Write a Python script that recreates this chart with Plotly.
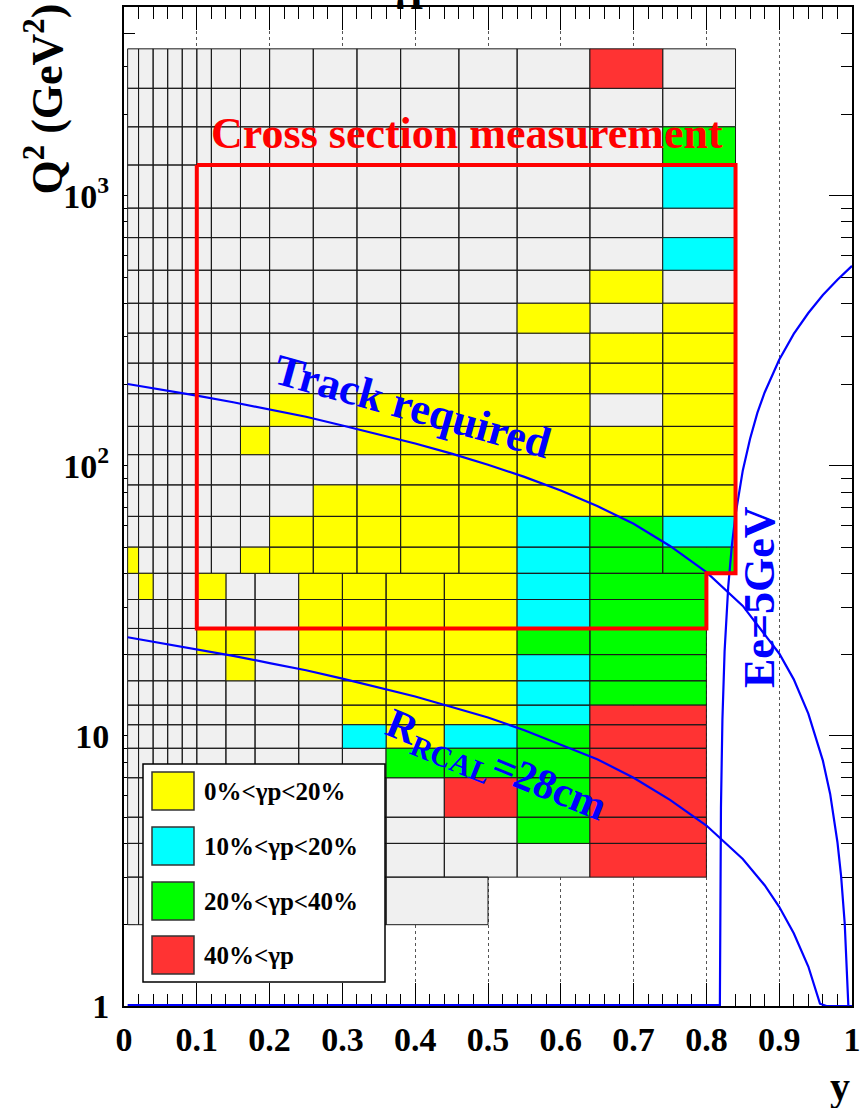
import plotly.graph_objects as go

# ---------------- data ----------------
# Q2 bin edges (GeV^2)
q2_edges_high = [40, 50, 65, 85, 110, 140, 185, 240, 310, 400, 530, 700, 900, 1300, 1800, 2500, 3500]
q2_edges_low = [3, 4, 5, 7, 9, 11, 13, 16, 20, 25, 32, 40]
q2_edges_bottom = [2, 3]

# y bin edges
y_edges_high = [0.005, 0.02, 0.04, 0.06, 0.08, 0.10, 0.12, 0.16, 0.20, 0.26, 0.32, 0.38, 0.46, 0.54, 0.64, 0.74, 0.84]
y_edges_low = [0.005, 0.02, 0.04, 0.06, 0.08, 0.10, 0.14, 0.18, 0.24, 0.30, 0.36, 0.44, 0.54, 0.64, 0.80]
y_edges_bottom = [0.005, 0.02, 0.04, 0.06, 0.08, 0.10, 0.14, 0.18, 0.24, 0.30, 0.36, 0.50]

# photoproduction class per cell: 0 none, 1 yellow, 2 cyan, 3 green, 4 red
# rows from low Q2 to high Q2
cls_high = [
    [1, 0, 0, 0, 0, 0, 0, 1, 1, 1, 1, 1, 1, 2, 3, 3],  # 40-50
    [0, 0, 0, 0, 0, 0, 0, 0, 1, 1, 1, 1, 1, 2, 3, 2],  # 50-65
    [0, 0, 0, 0, 0, 0, 0, 0, 0, 1, 1, 1, 1, 1, 1, 1],  # 65-85
    [0, 0, 0, 0, 0, 0, 0, 0, 0, 0, 0, 1, 1, 1, 1, 1],  # 85-110
    [0, 0, 0, 0, 0, 0, 0, 1, 0, 0, 1, 1, 1, 1, 1, 1],  # 110-140
    [0, 0, 0, 0, 0, 0, 0, 0, 1, 0, 1, 1, 1, 1, 0, 1],  # 140-185
    [0, 0, 0, 0, 0, 0, 0, 0, 0, 0, 0, 0, 1, 1, 1, 1],  # 185-240
    [0, 0, 0, 0, 0, 0, 0, 0, 0, 0, 0, 0, 0, 0, 1, 1],  # 240-310
    [0, 0, 0, 0, 0, 0, 0, 0, 0, 0, 0, 0, 0, 1, 0, 1],  # 310-400
    [0, 0, 0, 0, 0, 0, 0, 0, 0, 0, 0, 0, 0, 0, 1, 0],  # 400-530
    [0, 0, 0, 0, 0, 0, 0, 0, 0, 0, 0, 0, 0, 0, 0, 2],  # 530-700
    [0, 0, 0, 0, 0, 0, 0, 0, 0, 0, 0, 0, 0, 0, 0, 0],  # 700-900
    [0, 0, 0, 0, 0, 0, 0, 0, 0, 0, 0, 0, 0, 0, 0, 2],  # 900-1300
    [0, 0, 0, 0, 0, 0, 0, 0, 0, 0, 0, 0, 0, 0, 0, 3],  # 1300-1800
    [0, 0, 0, 0, 0, 0, 0, 0, 0, 0, 0, 0, 0, 0, 0, 0],  # 1800-2500
    [0, 0, 0, 0, 0, 0, 0, 0, 0, 0, 0, 0, 0, 0, 4, 0],  # 2500-3500
]
cls_low = [
    [0, 0, 0, 0, 0, 0, 0, 0, 0, 0, 0, 0, 0, 4],  # 3-4
    [0, 0, 0, 0, 0, 0, 0, 0, 0, 0, 0, 0, 3, 4],  # 4-5
    [0, 0, 0, 0, 0, 0, 0, 0, 0, 0, 0, 4, 3, 4],  # 5-7
    [0, 0, 0, 0, 0, 0, 0, 0, 0, 0, 3, 3, 3, 4],  # 7-9
    [0, 0, 0, 0, 0, 0, 0, 0, 0, 2, 1, 2, 3, 4],  # 9-11
    [0, 0, 0, 0, 0, 0, 0, 0, 0, 1, 1, 1, 2, 4],  # 11-13
    [0, 0, 0, 0, 0, 0, 0, 0, 0, 1, 1, 1, 2, 3],  # 13-16
    [0, 0, 0, 0, 0, 0, 1, 0, 1, 1, 1, 1, 2, 3],  # 16-20
    [0, 0, 0, 0, 0, 1, 1, 0, 1, 1, 1, 1, 3, 3],  # 20-25
    [0, 0, 0, 0, 0, 0, 0, 0, 1, 1, 1, 1, 2, 3],  # 25-32
    [0, 1, 0, 0, 0, 1, 0, 0, 1, 1, 1, 1, 2, 3],  # 32-40
]
cls_bottom = [
    [0, 0, 0, 0, 0, 0, 0, 0, 0, 0, 0],  # 2-3
]

class_colors = ["#f0f0f0", "#ffff00", "#00ffff", "#00ff00", "#ff3333"]
legend_labels = ["0%&lt;γp&lt;20%", "10%&lt;γp&lt;20%", "20%&lt;γp&lt;40%", "40%&lt;γp"]

# cross-section measurement region outline (y, Q2)
box_y = [0.10, 0.84, 0.84, 0.80, 0.80, 0.10, 0.10]
box_q2 = [1300, 1300, 40, 40, 25, 25, 1300]

# kinematic curves
track_y = [0.005, 0.05, 0.10, 0.15, 0.20, 0.25, 0.30, 0.35, 0.40, 0.45, 0.50, 0.55, 0.60, 0.65, 0.70,
           0.75, 0.80, 0.85, 0.90, 0.92, 0.94, 0.96, 0.97, 0.98, 0.985, 0.99, 0.995, 1.0]
track_q2 = [201, 192, 182, 172, 162, 152, 141, 131, 121, 111, 101, 91, 81, 71, 61,
            50.5, 40.4, 30.3, 20.2, 16.2, 12.1, 8.1, 6.1, 4.04, 3.03, 2.02, 1.0, 1.0]

rcal_y = [0.005, 0.05, 0.10, 0.15, 0.20, 0.25, 0.30, 0.35, 0.40, 0.45, 0.50, 0.55, 0.60, 0.65, 0.70,
          0.75, 0.80, 0.85, 0.88, 0.90, 0.92, 0.94, 0.956, 0.965, 1.0]
rcal_q2 = [23.2, 22.1, 21.0, 19.8, 18.6, 17.5, 16.3, 15.1, 14.0, 12.8, 11.7, 10.5, 9.3, 8.2, 7.0,
           5.8, 4.66, 3.5, 2.8, 2.33, 1.86, 1.4, 1.02, 1.0, 1.0]

ee_y = [0.005, 0.8185, 0.819, 0.82, 0.822, 0.825, 0.83, 0.835, 0.84, 0.85, 0.86, 0.87, 0.88,
        0.90, 0.92, 0.94, 0.96, 0.98, 1.0]
ee_q2 = [1.0, 1.0, 2.42, 5.45, 11.5, 20.6, 35.7, 50.8, 65.9, 96.2, 126, 157, 187,
         247, 308, 368, 429, 489, 550]

x_tickvals = [0, 0.1, 0.2, 0.3, 0.4, 0.5, 0.6, 0.7, 0.8, 0.9, 1.0]
x_ticktext = ["0", "0.1", "0.2", "0.3", "0.4", "0.5", "0.6", "0.7", "0.8", "0.9", "1"]
y_tickvals = [1, 10, 100, 1000]
y_ticktext = ["1", "10", "10<sup>2</sup>", "10<sup>3</sup>"]
y_minorvals = [2, 3, 4, 5, 6, 7, 8, 9, 20, 30, 40, 50, 60, 70, 80, 90,
               200, 300, 400, 500, 600, 700, 800, 900, 2000, 3000, 4000, 5000]

# ---------------- figure ----------------
FONT = "Liberation Serif"
W, H = 860, 1108
L, R, T, B = 124, 8, 7, 102
PW, PH = W - L - R, H - T - B


def fx(px):
    return (px - L) / PW


def fy(py):
    return (H - B - py) / PH


buckets = {k: ([], []) for k in range(len(class_colors))}


def add_cells(xe, qe, cls):
    for r in range(len(qe) - 1):
        for c in range(len(xe) - 1):
            xs, ys = buckets[cls[r][c]]
            xs += [xe[c], xe[c + 1], xe[c + 1], xe[c], xe[c], None]
            ys += [qe[r], qe[r], qe[r + 1], qe[r + 1], qe[r], None]


add_cells(y_edges_high, q2_edges_high, cls_high)
add_cells(y_edges_low, q2_edges_low, cls_low)
add_cells(y_edges_bottom, q2_edges_bottom, cls_bottom)

fig = go.Figure()
for k, col in enumerate(class_colors):
    xs, ys = buckets[k]
    if not xs:
        continue
    fig.add_trace(go.Scatter(x=xs, y=ys, mode="lines", fill="toself", fillcolor=col,
                             line=dict(color="#1a1a1a", width=1), hoverinfo="skip"))

blue = "#0000ff"
# the part of the Ee curve that runs along the lower edge (half of it is clipped by the frame)
fig.add_trace(go.Scatter(x=ee_y[:2], y=ee_q2[:2], mode="lines", line=dict(color=blue, width=4),
                         hoverinfo="skip"))
for xs, ys in [(ee_y[1:], ee_q2[1:]), (track_y, track_q2), (rcal_y, rcal_q2)]:
    fig.add_trace(go.Scatter(x=xs, y=ys, mode="lines", line=dict(color=blue, width=2.2),
                             hoverinfo="skip"))

fig.add_trace(go.Scatter(x=box_y, y=box_q2, mode="lines", line=dict(color="#ff0000", width=4),
                         hoverinfo="skip"))

axis_common = dict(
    showline=True, linewidth=2, linecolor="black", mirror="ticks",
    ticks="inside", tickcolor="black", tickwidth=1, ticklen=23,
    zeroline=False, layer="below traces", automargin=False, ticklabeloverflow="allow",
    tickfont=dict(family=FONT, size=34, color="black", weight="bold"),
)

fig.update_xaxes(range=[0, 1], tickmode="array", tickvals=x_tickvals, ticktext=x_ticktext,
                 showgrid=True, gridcolor="#555555", griddash="dot", gridwidth=1,
                 minor=dict(dtick=0.02, tick0=0, ticks="inside", ticklen=12, tickcolor="black",
                            tickwidth=1, showgrid=False),
                 ticklabelstandoff=2,
                 **axis_common)
fig.update_yaxes(type="log", range=[0, 3.69897], tickmode="array", tickvals=y_tickvals,
                 ticktext=y_ticktext, showgrid=False,
                 minor=dict(tickmode="array", tickvals=y_minorvals, ticks="inside", ticklen=11,
                            tickcolor="black", tickwidth=1, showgrid=False),
                 ticklabelstandoff=6,
                 **axis_common)

shapes = []
annotations = []

# legend
shapes.append(dict(type="rect", xref="paper", yref="paper", x0=fx(143), x1=fx(385),
                   y0=fy(982), y1=fy(764), fillcolor="white", line=dict(color="black", width=1.5)))
sw_tops = [772, 827, 882, 936]
for i, lab in enumerate(legend_labels):
    t = sw_tops[i]
    shapes.append(dict(type="rect", xref="paper", yref="paper", x0=fx(152), x1=fx(194),
                       y0=fy(t + 38), y1=fy(t), fillcolor=class_colors[i + 1],
                       line=dict(color="#333333", width=1.5)))
    annotations.append(dict(text=lab, xref="paper", yref="paper", x=fx(202), y=fy(t + 19),
                            xanchor="left", yanchor="middle", showarrow=False,
                            font=dict(family=FONT, size=25, color="black", weight="bold")))

# texts
annotations += [
    dict(text="Cross section measurement", x=fx(467), y=fy(133), font=dict(size=44, color="#ff0000")),
    dict(text="Track required", x=fx(412), y=fy(407), textangle=15.5, font=dict(size=44, color=blue)),
    dict(text="R<sub>RCAL</sub>=28cm", x=fx(495), y=fy(767), textangle=22, font=dict(size=42, color=blue)),
    dict(text="Ee=5GeV", x=fx(759), y=fy(597), textangle=-90, font=dict(size=44, color=blue)),
    dict(text="Q<sup>2</sup> (GeV<sup>2</sup>)", x=fx(44), y=fy(2), yanchor="top", textangle=-90,
         font=dict(size=44, color="black")),
    dict(text="y", x=fx(852), y=fy(1086), xanchor="right", font=dict(size=40, color="black")),
    dict(text="γp", x=fx(412), y=fy(12), yanchor="bottom", font=dict(size=44, color="black")),
]
for a in annotations[len(legend_labels):]:
    a.setdefault("xref", "paper")
    a.setdefault("yref", "paper")
    a.setdefault("xanchor", "center")
    a.setdefault("yanchor", "middle")
    a.setdefault("showarrow", False)
    a["font"].setdefault("family", FONT)
    a["font"].setdefault("weight", "bold")

fig.update_layout(width=W, height=H, margin=dict(l=L, r=R, t=T, b=B, autoexpand=False),
                  plot_bgcolor="white", paper_bgcolor="white", showlegend=False,
                  shapes=shapes, annotations=annotations)

fig.write_html("out.html", config={"displayModeBar": False})
